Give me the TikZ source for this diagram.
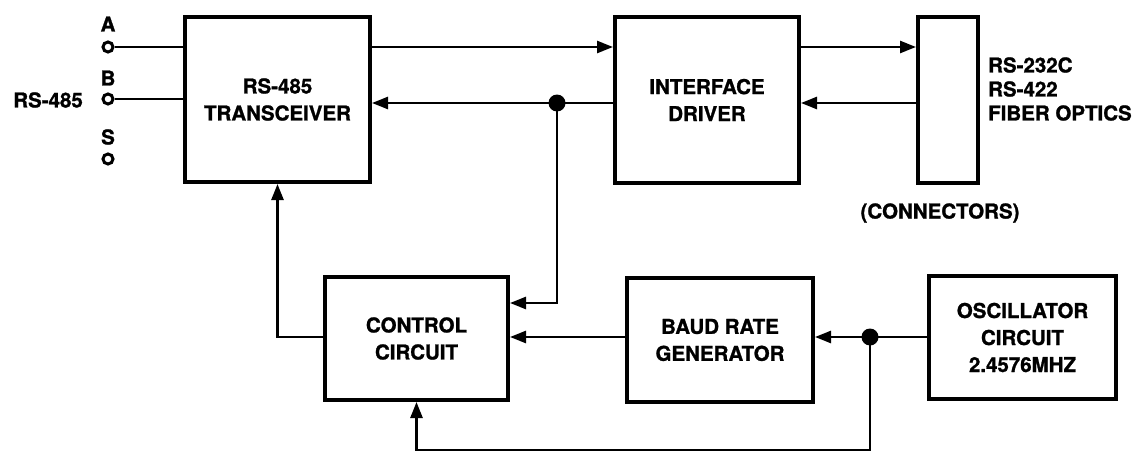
\documentclass[tikz,border=0pt]{standalone}
\usepackage{fontspec}
\setmainfont{TeX Gyre Heros}[BoldFeatures={FakeBold=1.2}]
\usetikzlibrary{arrows.meta}

\begin{document}
\begin{tikzpicture}[x=1pt, y=-1pt,
  blk/.style={draw, line width=4pt, inner sep=0pt, align=center, font=\fontsize{20.5}{27}\selectfont\bfseries},
  sig/.style={line width=2.5pt},
  tip/.style={-{Triangle[length=16pt, width=12pt]}},
  term/.style={circle, draw, line width=3pt, minimum size=10pt, inner sep=0pt},
  dot/.style={circle, fill, minimum size=17pt, inner sep=0pt},
  lbl/.style={inner sep=0pt, align=left, font=\fontsize{20.5}{24}\selectfont\bfseries}]
\useasboundingbox (0,0) rectangle (1138,452);
\node[blk, minimum width=185pt, minimum height=165pt] (trx) at (277.5,99.5) {RS-485\\TRANSCEIVER};
\node[blk, minimum width=184pt, minimum height=166pt] (drv) at (707,100) {INTERFACE\\DRIVER};
\node[blk, minimum width=60pt, minimum height=166pt] (conn) at (948,100) {};
\node[blk, minimum width=183pt, minimum height=123pt] (ctrl) at (416.5,338.5) {CONTROL\\CIRCUIT};
\node[blk, minimum width=186pt, minimum height=124pt] (baud) at (720,340) {BAUD RATE\\GENERATOR};
\node[blk, minimum width=187pt, minimum height=123pt] (osc) at (1022.5,337.5) {OSCILLATOR\\CIRCUIT\\2.4576MHZ};
\node[term] (ta) at (108,47) {};
\node[term] (tb) at (108,99) {};
\node[term] (ts) at (108,159) {};
\node[lbl] (la) at (108,24) {A};
\node[lbl] (lb) at (108,78) {B};
\node[lbl] (ls) at (108,137) {S};
\node[lbl, anchor=east] (lbus) at (83,100) {RS-485};
\node[lbl, anchor=west] (lstd) at (988,89) {RS-232C\\RS-422\\FIBER OPTICS};
\node[lbl] (lconn) at (940,213) {(CONNECTORS)};
\node[dot] (j1) at (557,103) {};
\node[dot] (j2) at (870,337) {};
\coordinate (ytop) at (0,47);
\coordinate (ybot) at (0,103);
\coordinate (ymid) at (0,337);
\draw[sig] (ta.east) -- (trx.west |- ta);
\draw[sig] (tb.east) -- (trx.west |- tb);
\draw[sig, tip] (trx.east |- ytop) -- (drv.west |- ytop);
\draw[sig, tip] (drv.east |- ytop) -- (conn.west |- ytop);
\draw[sig, tip] (conn.west |- ybot) -- (drv.east |- ybot);
\draw[sig, tip] (drv.west |- ybot) -- (trx.east |- ybot);
\draw[sig, tip] (j1.center) -- (j1.center |- 0,303) -- (ctrl.east |- 0,303);
\draw[sig, tip] (ctrl.west |- ymid) -| (trx.south);
\draw[sig, tip] (baud.west |- ymid) -- (ctrl.east |- ymid);
\draw[sig, tip] (osc.west |- ymid) -- (baud.east |- ymid);
\draw[sig, tip] (j2.center) -- (j2.center |- 0,450) -- (ctrl.south |- 0,450) -- (ctrl.south);
\end{tikzpicture}
\end{document}
